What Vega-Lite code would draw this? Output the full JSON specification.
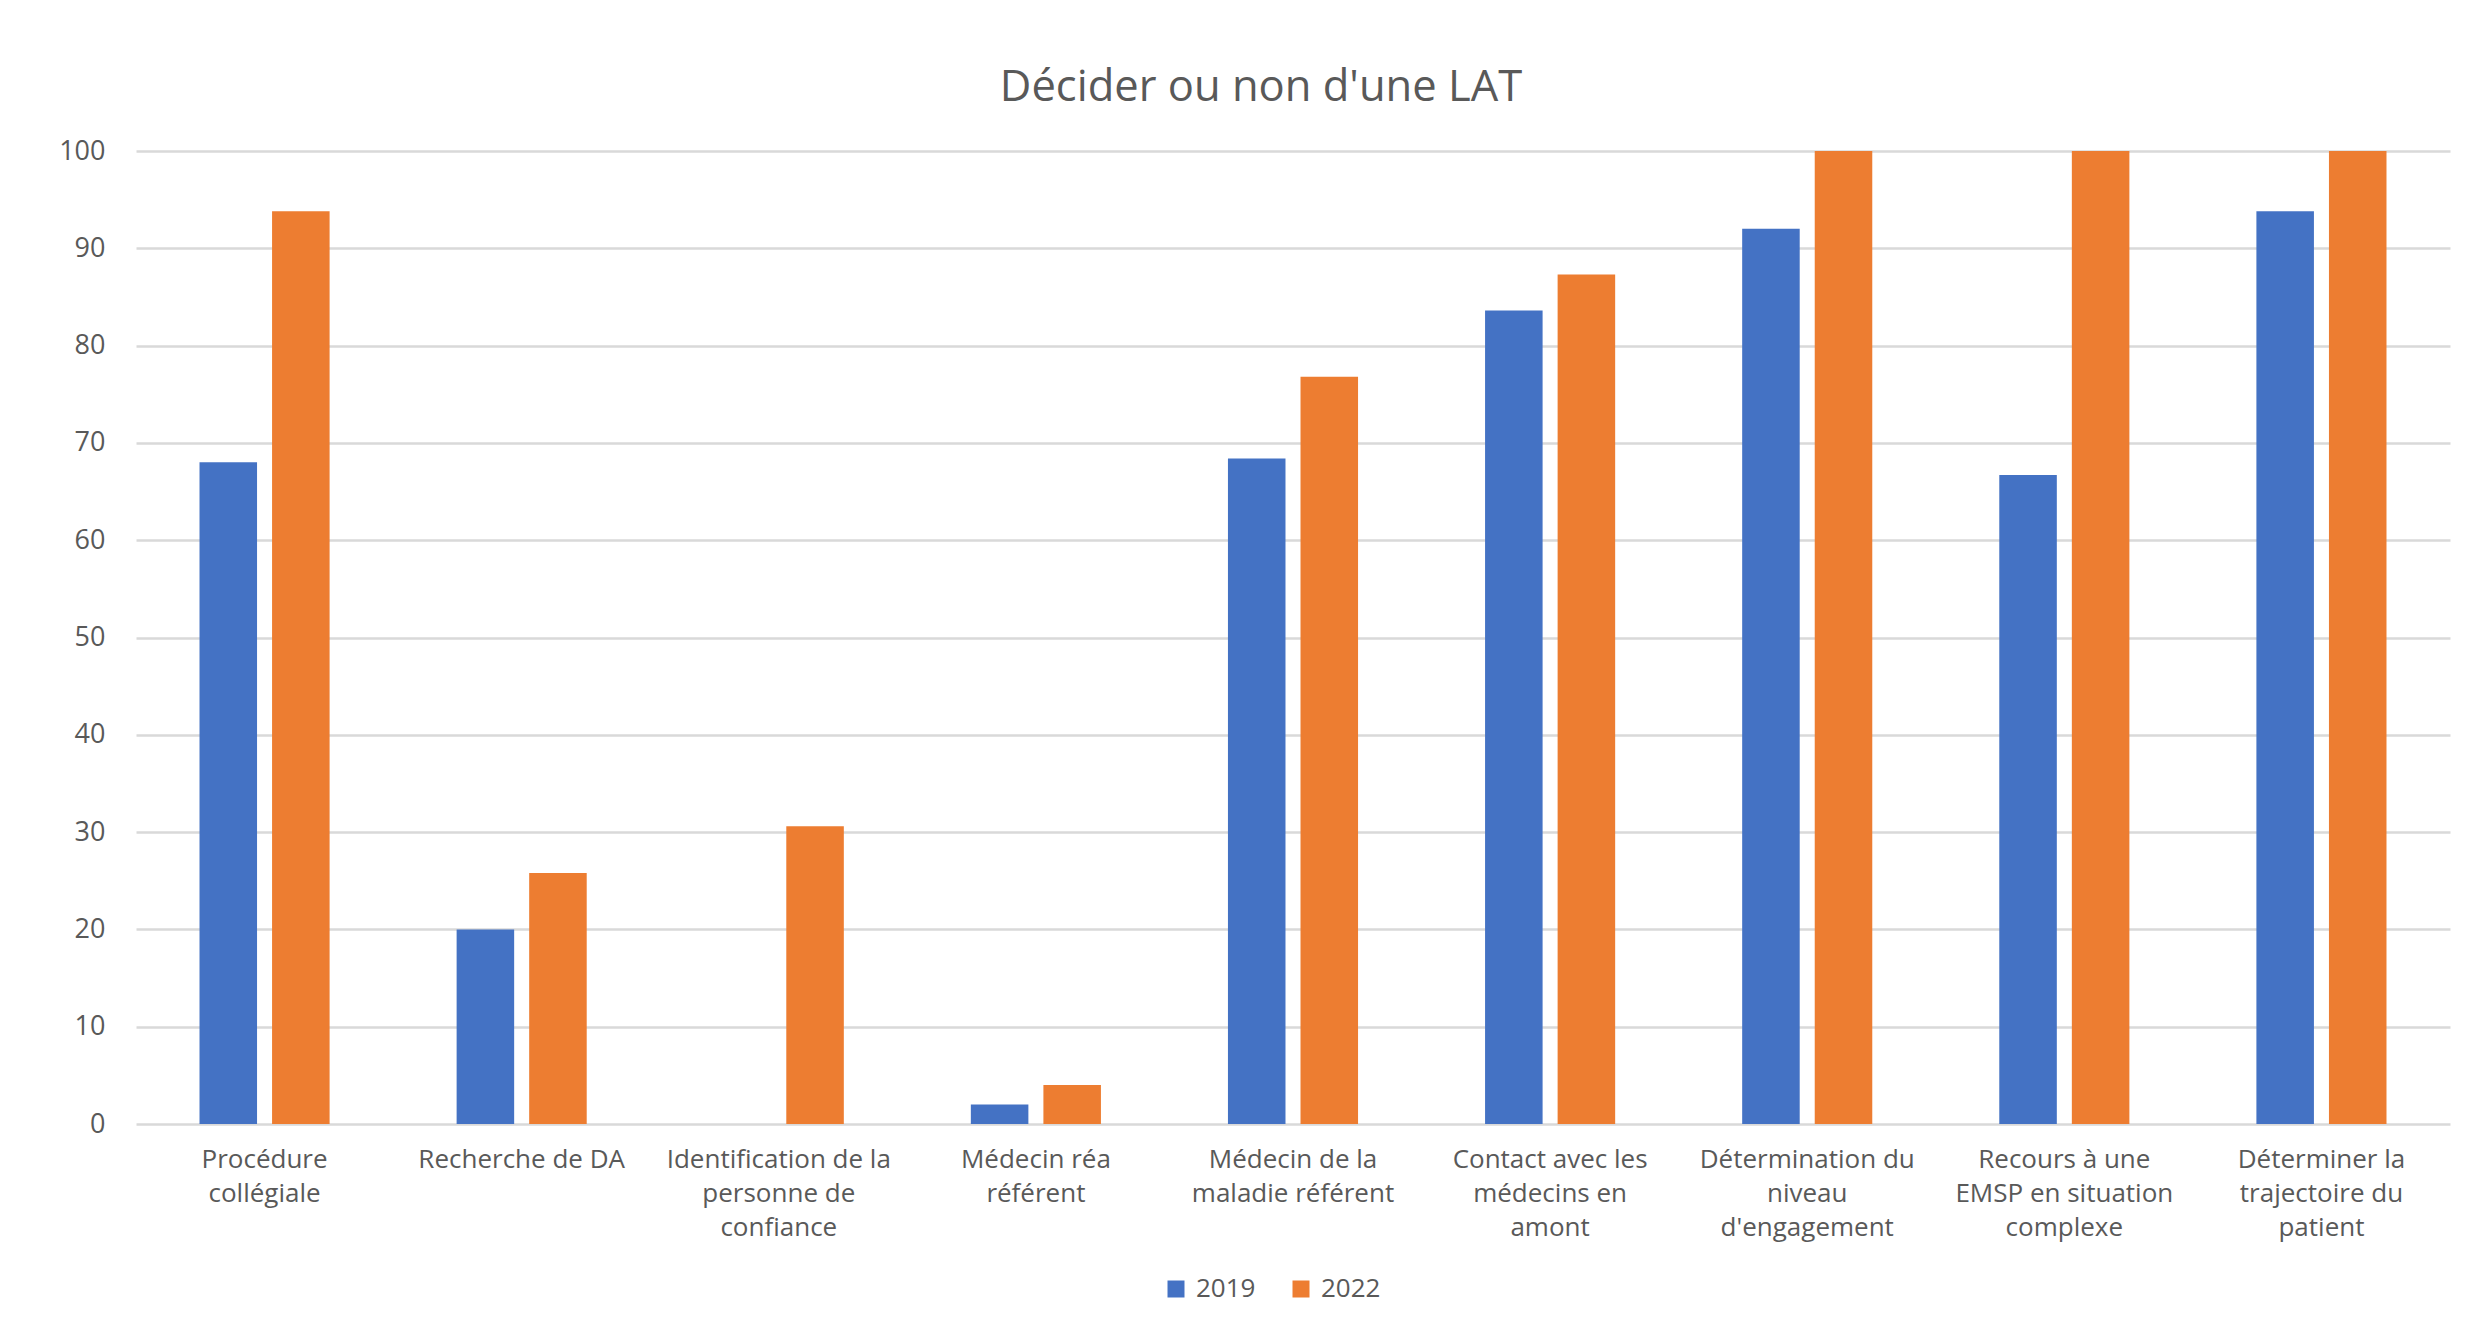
{
  "$schema": "https://vega.github.io/schema/vega-lite/v6.json",
  "width": 2314,
  "height": 973,
  "autosize": {"type": "none"},
  "padding": {"left": 136, "top": 151, "right": 25, "bottom": 193},
  "background": "#ffffff",
  "title": {
    "text": "Décider ou non d'une LAT",
    "anchor": "middle",
    "frame": "group",
    "dx": -32,
    "dy": 58,
    "offset": 51,
    "baseline": "alphabetic",
    "font": "Open Sans",
    "fontSize": 43.5,
    "fontWeight": "normal",
    "color": "#595959"
  },
  "data": {
    "values": [
      {"categorie": "Procédure\ncollégiale", "annee": "2019", "valeur": 68},
      {"categorie": "Procédure\ncollégiale", "annee": "2022", "valeur": 93.8},
      {"categorie": "Recherche de DA", "annee": "2019", "valeur": 20},
      {"categorie": "Recherche de DA", "annee": "2022", "valeur": 25.8},
      {"categorie": "Identification de la\npersonne de\nconfiance", "annee": "2019", "valeur": 0},
      {"categorie": "Identification de la\npersonne de\nconfiance", "annee": "2022", "valeur": 30.6},
      {"categorie": "Médecin réa\nréférent", "annee": "2019", "valeur": 2},
      {"categorie": "Médecin réa\nréférent", "annee": "2022", "valeur": 4},
      {"categorie": "Médecin de la\nmaladie référent", "annee": "2019", "valeur": 68.4},
      {"categorie": "Médecin de la\nmaladie référent", "annee": "2022", "valeur": 76.8},
      {"categorie": "Contact avec les\nmédecins en\namont", "annee": "2019", "valeur": 83.6},
      {"categorie": "Contact avec les\nmédecins en\namont", "annee": "2022", "valeur": 87.3},
      {"categorie": "Détermination du\nniveau\nd'engagement", "annee": "2019", "valeur": 92},
      {"categorie": "Détermination du\nniveau\nd'engagement", "annee": "2022", "valeur": 100},
      {"categorie": "Recours à une\nEMSP en situation\ncomplexe", "annee": "2019", "valeur": 66.7},
      {"categorie": "Recours à une\nEMSP en situation\ncomplexe", "annee": "2022", "valeur": 100},
      {"categorie": "Déterminer la\ntrajectoire du\npatient", "annee": "2019", "valeur": 93.8},
      {"categorie": "Déterminer la\ntrajectoire du\npatient", "annee": "2022", "valeur": 100}
    ]
  },
  "mark": {"type": "bar"},
  "encoding": {
    "x": {
      "field": "categorie",
      "type": "nominal",
      "sort": null,
      "scale": {"paddingInner": 0.494, "paddingOuter": 0.247},
      "axis": {
        "title": null,
        "labelAngle": 0,
        "labelExpr": "split(datum.label, '\\n')",
        "labelFont": "Open Sans",
        "labelFontSize": 26,
        "labelLineHeight": 34,
        "labelColor": "#595959",
        "labelPadding": 22,
        "labelLimit": 400,
        "labelBaseline": "top",
        "ticks": false,
        "domain": false,
        "grid": false
      }
    },
    "xOffset": {
      "field": "annee",
      "type": "nominal",
      "scale": {"paddingInner": 0.207, "paddingOuter": 0}
    },
    "y": {
      "field": "valeur",
      "type": "quantitative",
      "scale": {"domain": [0, 100], "nice": false},
      "axis": {
        "title": null,
        "values": [0, 10, 20, 30, 40, 50, 60, 70, 80, 90, 100],
        "labelFont": "Open Sans",
        "labelFontSize": 27,
        "labelColor": "#595959",
        "labelPadding": 31,
        "ticks": false,
        "domain": false,
        "grid": true,
        "gridColor": "#d9d9d9",
        "gridWidth": 2.5,
        "gridOpacity": 1
      }
    },
    "color": {
      "field": "annee",
      "type": "nominal",
      "scale": {"domain": ["2019", "2022"], "range": ["#4472c4", "#ed7d31"]},
      "legend": {
        "title": null,
        "orient": "none",
        "direction": "horizontal",
        "legendX": 1027,
        "legendY": 1125,
        "padding": 0,
        "symbolType": "square",
        "symbolSize": 289,
        "symbolStrokeWidth": 0,
        "symbolOpacity": 1,
        "labelFont": "Open Sans",
        "labelFontSize": 26,
        "labelColor": "#595959",
        "labelOffset": 7,
        "columnPadding": 32
      }
    }
  },
  "config": {
    "view": {"stroke": null}
  }
}
